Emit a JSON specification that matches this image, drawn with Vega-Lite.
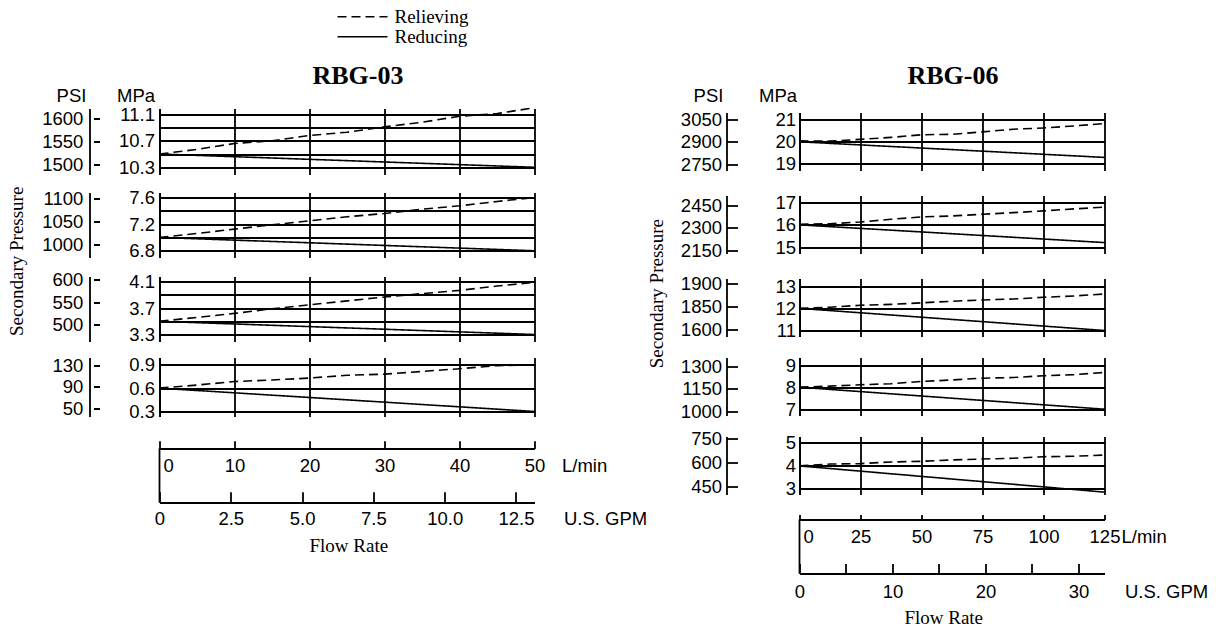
{
"$schema": "https://vega.github.io/schema/vega-lite/v6.json",
"padding": {"left": 7.5, "top": 6.5, "right": 0, "bottom": 0},
"datasets": {
"l1": [{"lpm":0,"mpa":10.5,"type":"Reducing"},{"lpm":50,"mpa":10.3,"type":"Reducing"},
{"lpm":0,"mpa":10.5,"type":"Relieving"},{"lpm":5,"mpa":10.57,"type":"Relieving"},{"lpm":10,"mpa":10.66,"type":"Relieving"},{"lpm":15,"mpa":10.7,"type":"Relieving"},{"lpm":20,"mpa":10.78,"type":"Relieving"},{"lpm":25,"mpa":10.83,"type":"Relieving"},{"lpm":30,"mpa":10.91,"type":"Relieving"},{"lpm":35,"mpa":10.98,"type":"Relieving"},{"lpm":40,"mpa":11.07,"type":"Relieving"},{"lpm":45,"mpa":11.11,"type":"Relieving"},{"lpm":50,"mpa":11.2,"type":"Relieving"}],
"l2": [{"lpm":0,"mpa":7.0,"type":"Reducing"},{"lpm":50,"mpa":6.8,"type":"Reducing"},
{"lpm":0,"mpa":7.0,"type":"Relieving"},{"lpm":5,"mpa":7.06,"type":"Relieving"},{"lpm":10,"mpa":7.125,"type":"Relieving"},{"lpm":15,"mpa":7.19,"type":"Relieving"},{"lpm":20,"mpa":7.25,"type":"Relieving"},{"lpm":25,"mpa":7.31,"type":"Relieving"},{"lpm":30,"mpa":7.36,"type":"Relieving"},{"lpm":35,"mpa":7.425,"type":"Relieving"},{"lpm":40,"mpa":7.475,"type":"Relieving"},{"lpm":45,"mpa":7.54,"type":"Relieving"},{"lpm":50,"mpa":7.6,"type":"Relieving"}],
"l3": [{"lpm":0,"mpa":3.5,"type":"Reducing"},{"lpm":50,"mpa":3.3,"type":"Reducing"},
{"lpm":0,"mpa":3.5,"type":"Relieving"},{"lpm":5,"mpa":3.56,"type":"Relieving"},{"lpm":10,"mpa":3.62,"type":"Relieving"},{"lpm":15,"mpa":3.69,"type":"Relieving"},{"lpm":20,"mpa":3.75,"type":"Relieving"},{"lpm":25,"mpa":3.81,"type":"Relieving"},{"lpm":30,"mpa":3.87,"type":"Relieving"},{"lpm":35,"mpa":3.92,"type":"Relieving"},{"lpm":40,"mpa":3.97,"type":"Relieving"},{"lpm":45,"mpa":4.035,"type":"Relieving"},{"lpm":50,"mpa":4.09,"type":"Relieving"}],
"l4": [{"lpm":0,"mpa":0.6,"type":"Reducing"},{"lpm":50,"mpa":0.3,"type":"Reducing"},
{"lpm":0,"mpa":0.6,"type":"Relieving"},{"lpm":5,"mpa":0.64,"type":"Relieving"},{"lpm":10,"mpa":0.685,"type":"Relieving"},{"lpm":15,"mpa":0.705,"type":"Relieving"},{"lpm":20,"mpa":0.73,"type":"Relieving"},{"lpm":25,"mpa":0.765,"type":"Relieving"},{"lpm":30,"mpa":0.78,"type":"Relieving"},{"lpm":35,"mpa":0.815,"type":"Relieving"},{"lpm":40,"mpa":0.85,"type":"Relieving"},{"lpm":45,"mpa":0.89,"type":"Relieving"},{"lpm":50,"mpa":0.9,"type":"Relieving"}],
"r1": [{"lpm":0,"mpa":20.0,"type":"Reducing"},{"lpm":125,"mpa":19.29,"type":"Reducing"},
{"lpm":0,"mpa":20.04,"type":"Relieving"},{"lpm":12.5,"mpa":20.03,"type":"Relieving"},{"lpm":25,"mpa":20.11,"type":"Relieving"},{"lpm":37.5,"mpa":20.2,"type":"Relieving"},{"lpm":50,"mpa":20.32,"type":"Relieving"},{"lpm":62.5,"mpa":20.34,"type":"Relieving"},{"lpm":75,"mpa":20.45,"type":"Relieving"},{"lpm":87.5,"mpa":20.57,"type":"Relieving"},{"lpm":100,"mpa":20.63,"type":"Relieving"},{"lpm":112.5,"mpa":20.72,"type":"Relieving"},{"lpm":125,"mpa":20.83,"type":"Relieving"}],
"r2": [{"lpm":0,"mpa":16.0,"type":"Reducing"},{"lpm":125,"mpa":15.2,"type":"Reducing"},
{"lpm":0,"mpa":16.03,"type":"Relieving"},{"lpm":12.5,"mpa":16.05,"type":"Relieving"},{"lpm":25,"mpa":16.13,"type":"Relieving"},{"lpm":37.5,"mpa":16.25,"type":"Relieving"},{"lpm":50,"mpa":16.36,"type":"Relieving"},{"lpm":62.5,"mpa":16.4,"type":"Relieving"},{"lpm":75,"mpa":16.48,"type":"Relieving"},{"lpm":87.5,"mpa":16.55,"type":"Relieving"},{"lpm":100,"mpa":16.63,"type":"Relieving"},{"lpm":112.5,"mpa":16.72,"type":"Relieving"},{"lpm":125,"mpa":16.8,"type":"Relieving"}],
"r3": [{"lpm":0,"mpa":12.0,"type":"Reducing"},{"lpm":125,"mpa":11.0,"type":"Reducing"},
{"lpm":0,"mpa":12.0,"type":"Relieving"},{"lpm":12.5,"mpa":12.05,"type":"Relieving"},{"lpm":25,"mpa":12.14,"type":"Relieving"},{"lpm":37.5,"mpa":12.18,"type":"Relieving"},{"lpm":50,"mpa":12.25,"type":"Relieving"},{"lpm":62.5,"mpa":12.32,"type":"Relieving"},{"lpm":75,"mpa":12.38,"type":"Relieving"},{"lpm":87.5,"mpa":12.42,"type":"Relieving"},{"lpm":100,"mpa":12.5,"type":"Relieving"},{"lpm":112.5,"mpa":12.56,"type":"Relieving"},{"lpm":125,"mpa":12.65,"type":"Relieving"}],
"r4": [{"lpm":0,"mpa":8.0,"type":"Reducing"},{"lpm":125,"mpa":7.0,"type":"Reducing"},
{"lpm":0,"mpa":8.0,"type":"Relieving"},{"lpm":12.5,"mpa":8.05,"type":"Relieving"},{"lpm":25,"mpa":8.11,"type":"Relieving"},{"lpm":37.5,"mpa":8.16,"type":"Relieving"},{"lpm":50,"mpa":8.26,"type":"Relieving"},{"lpm":62.5,"mpa":8.33,"type":"Relieving"},{"lpm":75,"mpa":8.41,"type":"Relieving"},{"lpm":87.5,"mpa":8.44,"type":"Relieving"},{"lpm":100,"mpa":8.52,"type":"Relieving"},{"lpm":112.5,"mpa":8.57,"type":"Relieving"},{"lpm":125,"mpa":8.67,"type":"Relieving"}],
"r5": [{"lpm":0,"mpa":4.0,"type":"Reducing"},{"lpm":125,"mpa":2.86,"type":"Reducing"},
{"lpm":0,"mpa":4.0,"type":"Relieving"},{"lpm":12.5,"mpa":4.08,"type":"Relieving"},{"lpm":25,"mpa":4.1,"type":"Relieving"},{"lpm":37.5,"mpa":4.17,"type":"Relieving"},{"lpm":50,"mpa":4.2,"type":"Relieving"},{"lpm":62.5,"mpa":4.26,"type":"Relieving"},{"lpm":75,"mpa":4.3,"type":"Relieving"},{"lpm":87.5,"mpa":4.33,"type":"Relieving"},{"lpm":100,"mpa":4.4,"type":"Relieving"},{"lpm":112.5,"mpa":4.42,"type":"Relieving"},{"lpm":125,"mpa":4.47,"type":"Relieving"}],
"pl1": [{"psi":1500},{"psi":1550},{"psi":1600}],
"pl2": [{"psi":1000},{"psi":1050},{"psi":1100}],
"pl3": [{"psi":500},{"psi":550},{"psi":600}],
"pl4": [{"psi":50},{"psi":90},{"psi":130}],
"pr1": [{"psi":2750},{"psi":2900},{"psi":3050}],
"pr2": [{"psi":2150},{"psi":2300},{"psi":2450}],
"pr3": [{"psi":1600},{"psi":1850},{"psi":1900}],
"pr4": [{"psi":1000},{"psi":1150},{"psi":1300}],
"pr5": [{"psi":450},{"psi":600},{"psi":750}],
"blank": [{"z": 0}],
"origin": [{"lpm": 0, "gpm": 0, "f": 0}]
},
"spacing": 0,
"hconcat": [
{"vconcat": [
{"width": 375, "height": 66,
 "layer": [
  {"data": {"name": "l1"}, "mark": {"type": "line", "color": "black", "strokeWidth": 1.6},
   "encoding": {
    "x": {"field": "lpm", "type": "quantitative", "scale": {"domain": [0, 50], "nice": false, "zero": false},
          "axis": {"orient": "top", "values": [0,10,20,30,40,50], "grid": true, "domain": false, "ticks": false, "labels": false, "title": "RBG-03", "titleFont": "Liberation Serif", "titleFontSize": 26, "titleFontWeight": "bold", "titleX": 198, "titleY": -32.7, "titleAlign": "center", "titleBaseline": "middle", "titleAngle": 0}},
    "y": {"field": "mpa", "type": "quantitative", "scale": {"domain": [10.191, 11.1875], "nice": false, "zero": false},
          "axis": {"values": [10.3,10.5,10.7,10.9,11.1], "grid": true, "domain": true, "ticks": false, "labelPadding": 5, "format": ".1f", "labelExpr": "datum.value == 10.5 || datum.value == 10.9 ? '' : datum.label", "title": "MPa", "titleX": -24, "titleY": -13.2, "titleAngle": 0, "titleAlign": "center", "titleBaseline": "middle"}},
    "strokeDash": {"field": "type", "type": "nominal", "scale": {"domain": ["Relieving", "Reducing"], "range": [[9,5],[1,0]]},
       "legend": {"orient": "none", "legendX": 193.5, "legendY": -101.2, "title": null, "symbolType": "M-25,0H25", "symbolSize": 4, "symbolStrokeWidth": 1.6, "symbolStrokeColor": "black", "labelFont": "Liberation Serif", "labelFontSize": 19, "labelColor": "black", "labelOffset": 22.5, "rowPadding": 0, "padding": 0, "symbolOffset": 0}}
   }},
  {"data": {"name": "pl1"}, "mark": {"type": "point", "opacity": 0},
   "encoding": {"y": {"field": "psi", "type": "quantitative", "scale": {"domain": [1478.1, 1622.6], "nice": false, "zero": false},
     "axis": {"orient": "left", "offset": 70, "values": [1500,1550,1600], "format": "d", "grid": false, "domain": true, "ticks": true, "tickSize": -10, "tickDash": [0,4,6,100], "labelPadding": 16.7, "title": "PSI", "titleX": -18.5, "titleY": -13.2, "titleAngle": 0, "titleAlign": "center", "titleBaseline": "middle"}}}}
 ],
 "resolve": {"scale": {"y": "independent"}}
},
{"width": 375, "height": 18, "data": {"name": "blank"}, "mark": {"type": "point", "opacity": 0}, "encoding": {}},
{"width": 375, "height": 65,
 "layer": [
  {"data": {"name": "l2"}, "mark": {"type": "line", "color": "black", "strokeWidth": 1.6},
   "encoding": {
    "x": {"field": "lpm", "type": "quantitative", "scale": {"domain": [0, 50], "nice": false, "zero": false},
          "axis": {"values": [0,10,20,30,40,50], "grid": true, "domain": false, "ticks": false, "labels": false, "title": null}},
    "y": {"field": "mpa", "type": "quantitative", "scale": {"domain": [6.699, 7.675], "nice": false, "zero": false},
          "axis": {"values": [6.8,7.0,7.2,7.4,7.6], "grid": true, "domain": true, "ticks": false, "labelPadding": 5, "format": ".1f", "labelExpr": "datum.value == 7.0 || datum.value == 7.4 ? '' : datum.label", "title": null}},
    "strokeDash": {"field": "type", "type": "nominal", "scale": {"domain": ["Relieving", "Reducing"], "range": [[9,5],[1,0]]}, "legend": null}
   }},
  {"data": {"name": "pl2"}, "mark": {"type": "point", "opacity": 0},
   "encoding": {"y": {"field": "psi", "type": "quantitative", "scale": {"domain": [971.6, 1113.2], "nice": false, "zero": false},
     "axis": {"orient": "left", "offset": 70, "values": [1000,1050,1100], "format": "d", "grid": false, "domain": true, "ticks": true, "tickSize": -10, "tickDash": [0,4,6,100], "labelPadding": 16.7, "title": "Secondary Pressure", "titleFont": "Liberation Serif", "titleFontSize": 19, "titleX": -73, "titleY": 68.3, "titleAngle": 270, "titleAlign": "center", "titleBaseline": "middle"}}}}
 ],
 "resolve": {"scale": {"y": "independent"}}
},
{"width": 375, "height": 18.3, "data": {"name": "blank"}, "mark": {"type": "point", "opacity": 0}, "encoding": {}},
{"width": 375, "height": 65,
 "layer": [
  {"data": {"name": "l3"}, "mark": {"type": "line", "color": "black", "strokeWidth": 1.6},
   "encoding": {
    "x": {"field": "lpm", "type": "quantitative", "scale": {"domain": [0, 50], "nice": false, "zero": false},
          "axis": {"values": [0,10,20,30,40,50], "grid": true, "domain": false, "ticks": false, "labels": false, "title": null}},
    "y": {"field": "mpa", "type": "quantitative", "scale": {"domain": [3.194, 4.18], "nice": false, "zero": false},
          "axis": {"values": [3.3,3.5,3.7,3.9,4.1], "grid": true, "domain": true, "ticks": false, "labelPadding": 5, "format": ".1f", "labelExpr": "datum.value == 3.5 || datum.value == 3.9 ? '' : datum.label", "title": null}},
    "strokeDash": {"field": "type", "type": "nominal", "scale": {"domain": ["Relieving", "Reducing"], "range": [[9,5],[1,0]]}, "legend": null}
   }},
  {"data": {"name": "pl3"}, "mark": {"type": "point", "opacity": 0},
   "encoding": {"y": {"field": "psi", "type": "quantitative", "scale": {"domain": [463.3, 606.3], "nice": false, "zero": false},
     "axis": {"orient": "left", "offset": 70, "values": [500,550,600], "format": "d", "grid": false, "domain": true, "ticks": true, "tickSize": -10, "tickDash": [0,4,6,100], "labelPadding": 16.7, "title": null}}}}
 ],
 "resolve": {"scale": {"y": "independent"}}
},
{"width": 375, "height": 16, "data": {"name": "blank"}, "mark": {"type": "point", "opacity": 0}, "encoding": {}},
{"width": 375, "height": 59,
 "layer": [
  {"data": {"name": "l4"}, "mark": {"type": "line", "color": "black", "strokeWidth": 1.6},
   "encoding": {
    "x": {"field": "lpm", "type": "quantitative", "scale": {"domain": [0, 50], "nice": false, "zero": false},
          "axis": {"values": [0,10,20,30,40,50], "grid": true, "domain": false, "ticks": false, "labels": false, "title": null}},
    "y": {"field": "mpa", "type": "quantitative", "scale": {"domain": [0.2357, 0.994], "nice": false, "zero": false},
          "axis": {"values": [0.3,0.6,0.9], "grid": true, "domain": true, "ticks": false, "labelPadding": 5, "format": ".1f", "title": null}},
    "strokeDash": {"field": "type", "type": "nominal", "scale": {"domain": ["Relieving", "Reducing"], "range": [[9,5],[1,0]]}, "legend": null}
   }},
  {"data": {"name": "pl4"}, "mark": {"type": "point", "opacity": 0},
   "encoding": {"y": {"field": "psi", "type": "quantitative", "scale": {"domain": [34.2, 144.2], "nice": false, "zero": false},
     "axis": {"orient": "left", "offset": 70, "values": [50,90,130], "format": "d", "grid": false, "domain": true, "ticks": true, "tickSize": -10, "tickDash": [0,4,6,100], "labelPadding": 16.7, "title": null}}}}
 ],
 "resolve": {"scale": {"y": "independent"}}
},
{"width": 375, "height": 31.7, "data": {"name": "blank"}, "mark": {"type": "point", "opacity": 0}, "encoding": {}},
{"width": 375, "height": 54, "data": {"name": "origin"}, "mark": {"type": "rule", "color": "black", "strokeWidth": 1.8},
 "encoding": {"x": {"field": "lpm", "type": "quantitative", "scale": {"domain": [0, 50], "nice": false, "zero": false},
   "axis": {"orient": "top", "values": [0,10,20,30,40,50], "grid": false, "domain": true, "ticks": true, "tickSize": 7.7, "labelPadding": -24.3, "labelBaseline": "middle",
     "labelAlign": {"condition": {"test": "datum.value == 0", "value": "left"}, "value": "center"},
     "labelOffset": {"condition": {"test": "datum.value == 0", "value": 3.5}, "value": 0},
     "title": "L/min", "titleX": 402, "titleY": 16.6, "titleAlign": "left", "titleBaseline": "middle", "titleAngle": 0}}}
},
{"width": 375, "height": 1, "data": {"name": "origin"}, "mark": {"type": "point", "opacity": 0},
 "encoding": {
   "x": {"field": "gpm", "type": "quantitative", "scale": {"domain": [0, 13.15], "nice": false, "zero": false},
     "axis": {"orient": "top", "values": [0,2.5,5,7.5,10,12.5], "labelExpr": "datum.value == 0 ? '0' : format(datum.value, '.1f')", "grid": false, "domain": true, "ticks": true, "tickSize": 10.7, "labelPadding": -26.7, "labelBaseline": "middle", "labelAlign": "center", "title": "U.S. GPM", "titleX": 404, "titleY": 16, "titleAlign": "left", "titleBaseline": "middle", "titleAngle": 0}},
   "y": {"field": "f", "type": "quantitative", "scale": {"domain": [0, 1]},
     "axis": {"orient": "left", "grid": false, "domain": false, "ticks": false, "labels": false, "title": "Flow Rate", "titleFont": "Liberation Serif", "titleFontSize": 19, "titleX": 188.8, "titleY": 42.6, "titleAlign": "center", "titleBaseline": "middle", "titleAngle": 0}}}
}
], "spacing": 0, "bounds": "flush"},
{"vconcat": [
{"width": 305, "height": 4, "data": {"name": "blank"}, "mark": {"type": "point", "opacity": 0}, "encoding": {}},
{"width": 305, "height": 58,
 "layer": [
  {"data": {"name": "r1"}, "mark": {"type": "line", "color": "black", "strokeWidth": 1.6},
   "encoding": {
    "x": {"field": "lpm", "type": "quantitative", "scale": {"domain": [0, 125], "nice": false, "zero": false},
          "axis": {"orient": "top", "values": [0,25,50,75,100,125], "grid": true, "domain": false, "ticks": false, "labels": false, "title": "RBG-06", "titleFont": "Liberation Serif", "titleFontSize": 26, "titleFontWeight": "bold", "titleX": 153, "titleY": -36.7, "titleAlign": "center", "titleBaseline": "middle", "titleAngle": 0}},
    "y": {"field": "mpa", "type": "quantitative", "scale": {"domain": [18.695, 21.332], "nice": false, "zero": false},
          "axis": {"values": [19,20,21], "grid": true, "domain": true, "ticks": false, "labelPadding": 4, "format": "d", "title": "MPa", "titleX": -22, "titleY": -17.2, "titleAngle": 0, "titleAlign": "center", "titleBaseline": "middle"}},
    "strokeDash": {"field": "type", "type": "nominal", "scale": {"domain": ["Relieving", "Reducing"], "range": [[9,5],[1,0]]}, "legend": null}
   }},
  {"data": {"name": "pr1"}, "mark": {"type": "point", "opacity": 0},
   "encoding": {"y": {"field": "psi", "type": "quantitative", "scale": {"domain": [2711.5, 3094.0], "nice": false, "zero": false},
     "axis": {"orient": "left", "offset": 73, "values": [2750,2900,3050], "format": "d", "grid": false, "domain": true, "ticks": true, "tickSize": -11, "labelPadding": 16, "title": "PSI", "titleX": -18.5, "titleY": -17.2, "titleAngle": 0, "titleAlign": "center", "titleBaseline": "middle"}}}}
 ],
 "resolve": {"scale": {"y": "independent"}}
},
{"width": 305, "height": 24.8, "data": {"name": "blank"}, "mark": {"type": "point", "opacity": 0}, "encoding": {}},
{"width": 305, "height": 58,
 "layer": [
  {"data": {"name": "r2"}, "mark": {"type": "line", "color": "black", "strokeWidth": 1.6},
   "encoding": {
    "x": {"field": "lpm", "type": "quantitative", "scale": {"domain": [0, 125], "nice": false, "zero": false},
          "axis": {"values": [0,25,50,75,100,125], "grid": true, "domain": false, "ticks": false, "labels": false, "title": null}},
    "y": {"field": "mpa", "type": "quantitative", "scale": {"domain": [14.707, 17.325], "nice": false, "zero": false},
          "axis": {"values": [15,16,17], "grid": true, "domain": true, "ticks": false, "labelPadding": 4, "format": "d", "title": null}},
    "strokeDash": {"field": "type", "type": "nominal", "scale": {"domain": ["Relieving", "Reducing"], "range": [[9,5],[1,0]]}, "legend": null}
   }},
  {"data": {"name": "pr2"}, "mark": {"type": "point", "opacity": 0},
   "encoding": {"y": {"field": "psi", "type": "quantitative", "scale": {"domain": [2133.0, 2512.8], "nice": false, "zero": false},
     "axis": {"orient": "left", "offset": 73, "values": [2150,2300,2450], "format": "d", "grid": false, "domain": true, "ticks": true, "tickSize": -11, "labelPadding": 16, "title": null}}}}
 ],
 "resolve": {"scale": {"y": "independent"}}
},
{"width": 305, "height": 24.8, "data": {"name": "blank"}, "mark": {"type": "point", "opacity": 0}, "encoding": {}},
{"width": 305, "height": 58,
 "layer": [
  {"data": {"name": "r3"}, "mark": {"type": "line", "color": "black", "strokeWidth": 1.6},
   "encoding": {
    "x": {"field": "lpm", "type": "quantitative", "scale": {"domain": [0, 125], "nice": false, "zero": false},
          "axis": {"values": [0,25,50,75,100,125], "grid": true, "domain": false, "ticks": false, "labels": false, "title": null}},
    "y": {"field": "mpa", "type": "quantitative", "scale": {"domain": [10.729, 13.348], "nice": false, "zero": false},
          "axis": {"values": [11,12,13], "grid": true, "domain": true, "ticks": false, "labelPadding": 4, "format": "d", "title": null}},
    "strokeDash": {"field": "type", "type": "nominal", "scale": {"domain": ["Relieving", "Reducing"], "range": [[9,5],[1,0]]}, "legend": null}
   }},
  {"data": {"name": "pr3"}, "mark": {"type": "point", "opacity": 0},
   "encoding": {"y": {"field": "psi", "type": "quantitative", "scale": {"domain": [1556.1, 1936.0], "nice": false, "zero": false},
     "axis": {"orient": "left", "offset": 73, "values": [1600,1750,1900], "format": "d", "labelExpr": "datum.value == 1750 ? '1850' : datum.label", "grid": false, "domain": true, "ticks": true, "tickSize": -11, "labelPadding": 16, "title": "Secondary Pressure", "titleFont": "Liberation Serif", "titleFontSize": 19, "titleX": -70, "titleY": 14.7, "titleAngle": 270, "titleAlign": "center", "titleBaseline": "middle"}}}}
 ],
 "resolve": {"scale": {"y": "independent"}}
},
{"width": 305, "height": 20.7, "data": {"name": "blank"}, "mark": {"type": "point", "opacity": 0}, "encoding": {}},
{"width": 305, "height": 58,
 "layer": [
  {"data": {"name": "r4"}, "mark": {"type": "line", "color": "black", "strokeWidth": 1.6},
   "encoding": {
    "x": {"field": "lpm", "type": "quantitative", "scale": {"domain": [0, 125], "nice": false, "zero": false},
          "axis": {"values": [0,25,50,75,100,125], "grid": true, "domain": false, "ticks": false, "labels": false, "title": null}},
    "y": {"field": "mpa", "type": "quantitative", "scale": {"domain": [6.714, 9.35], "nice": false, "zero": false},
          "axis": {"values": [7,8,9], "grid": true, "domain": true, "ticks": false, "labelPadding": 4, "format": "d", "title": null}},
    "strokeDash": {"field": "type", "type": "nominal", "scale": {"domain": ["Relieving", "Reducing"], "range": [[9,5],[1,0]]}, "legend": null}
   }},
  {"data": {"name": "pr4"}, "mark": {"type": "point", "opacity": 0},
   "encoding": {"y": {"field": "psi", "type": "quantitative", "scale": {"domain": [973.8, 1356.1], "nice": false, "zero": false},
     "axis": {"orient": "left", "offset": 73, "values": [1000,1150,1300], "format": "d", "grid": false, "domain": true, "ticks": true, "tickSize": -11, "labelPadding": 16, "title": null}}}}
 ],
 "resolve": {"scale": {"y": "independent"}}
},
{"width": 305, "height": 20.3, "data": {"name": "blank"}, "mark": {"type": "point", "opacity": 0}, "encoding": {}},
{"width": 305, "height": 58,
 "layer": [
  {"data": {"name": "r5"}, "mark": {"type": "line", "color": "black", "strokeWidth": 1.6},
   "encoding": {
    "x": {"field": "lpm", "type": "quantitative", "scale": {"domain": [0, 125], "nice": false, "zero": false},
          "axis": {"values": [0,25,50,75,100,125], "grid": true, "domain": false, "ticks": false, "labels": false, "title": null}},
    "y": {"field": "mpa", "type": "quantitative", "scale": {"domain": [2.757, 5.278], "nice": false, "zero": false},
          "axis": {"values": [3,4,5], "grid": true, "domain": true, "ticks": false, "labelPadding": 4, "format": "d", "title": null}},
    "strokeDash": {"field": "type", "type": "nominal", "scale": {"domain": ["Relieving", "Reducing"], "range": [[9,5],[1,0]]}, "legend": null}
   }},
  {"data": {"name": "pr5"}, "mark": {"type": "point", "opacity": 0},
   "encoding": {"y": {"field": "psi", "type": "quantitative", "scale": {"domain": [399.9, 765.5], "nice": false, "zero": false},
     "axis": {"orient": "left", "offset": 73, "values": [450,600,750], "format": "d", "grid": false, "domain": true, "ticks": true, "tickSize": -11, "labelPadding": 16, "title": null}}}}
 ],
 "resolve": {"scale": {"y": "independent"}}
},
{"width": 305, "height": 24.4, "data": {"name": "blank"}, "mark": {"type": "point", "opacity": 0}, "encoding": {}},
{"width": 305, "height": 54, "data": {"name": "origin"}, "mark": {"type": "rule", "color": "black", "strokeWidth": 1.8},
 "encoding": {"x": {"field": "lpm", "type": "quantitative", "scale": {"domain": [0, 125], "nice": false, "zero": false},
   "axis": {"orient": "top", "values": [0,25,50,75,100,125], "grid": false, "domain": true, "ticks": true, "tickSize": 5, "labelPadding": -21.6, "labelBaseline": "middle",
     "labelAlign": {"condition": {"test": "datum.value == 0", "value": "left"}, "value": "center"},
     "labelOffset": {"condition": {"test": "datum.value == 0", "value": 3.5}, "value": 0},
     "title": "L/min", "titleX": 321.5, "titleY": 16.6, "titleAlign": "left", "titleBaseline": "middle", "titleAngle": 0}}}
},
{"width": 305, "height": 1, "data": {"name": "origin"}, "mark": {"type": "point", "opacity": 0},
 "encoding": {
   "x": {"field": "gpm", "type": "quantitative", "scale": {"domain": [0, 32.8], "nice": false, "zero": false},
     "axis": {"orient": "top", "values": [0,5,10,15,20,25,30], "format": "d", "labelExpr": "datum.value % 10 == 0 ? datum.label : ''", "grid": false, "domain": true, "ticks": true, "tickSize": 10, "labelPadding": -27.6, "labelBaseline": "middle", "labelAlign": "center", "title": "U.S. GPM", "titleX": 325, "titleY": 17.6, "titleAlign": "left", "titleBaseline": "middle", "titleAngle": 0}},
   "y": {"field": "f", "type": "quantitative", "scale": {"domain": [0, 1]},
     "axis": {"orient": "left", "grid": false, "domain": false, "ticks": false, "labels": false, "title": "Flow Rate", "titleFont": "Liberation Serif", "titleFontSize": 19, "titleX": 143.7, "titleY": 44.3, "titleAlign": "center", "titleBaseline": "middle", "titleAngle": 0}}}
}
], "spacing": 0, "bounds": "flush"}
],
"config": {
 "view": {"stroke": null},
 "axis": {"labelFont": "Liberation Sans", "labelFontSize": 18.5, "labelColor": "black", "titleFont": "Liberation Sans", "titleFontSize": 18.5, "titleFontWeight": "normal", "titleColor": "black", "domainColor": "black", "domainWidth": 1.8, "tickColor": "black", "tickWidth": 1.8, "gridColor": "black", "gridOpacity": 1, "gridWidth": 1.8, "labelFlush": false, "labelOverlap": false, "titlePadding": 0}
}
}
